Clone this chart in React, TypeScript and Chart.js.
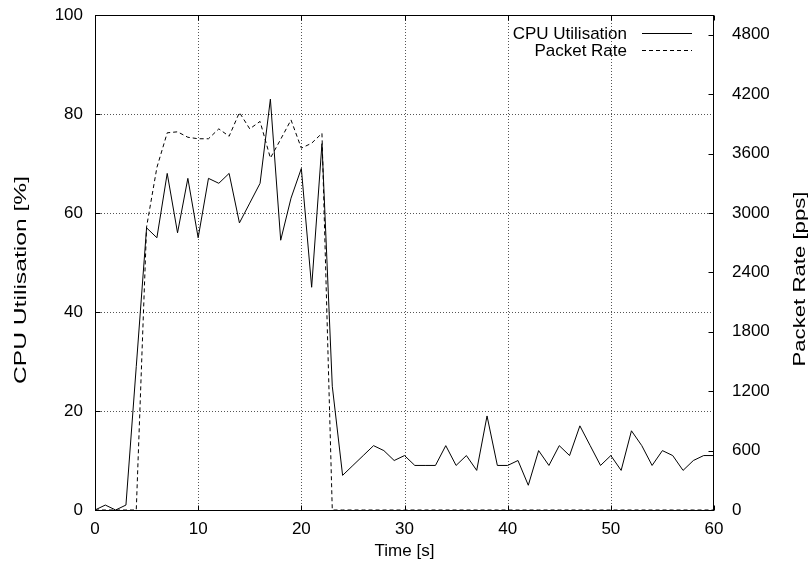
import React, { useEffect, useRef } from 'react';
import { Chart, registerables } from 'chart.js';

Chart.register(...registerables);

const seconds = [
  0, 1, 2, 3, 4, 5, 6, 7, 8, 9, 10, 11, 12, 13, 14, 15, 16, 17, 18, 19, 20,
  21, 22, 23, 24, 25, 26, 27, 28, 29, 30, 31, 32, 33, 34, 35, 36, 37, 38, 39, 40,
  41, 42, 43, 44, 45, 46, 47, 48, 49, 50, 51, 52, 53, 54, 55, 56, 57, 58, 59, 60,
];

const cpuUtilisation = [
  0, 1, 0, 1, 29, 57, 55, 68, 56, 67, 55, 67, 66, 68, 58, 62, 66, 83, 54.5, 63, 69,
  45, 74, 25, 7, 9, 11, 13, 12, 10, 11, 9, 9, 9, 13, 9, 11, 8, 19, 9, 9,
  10, 5, 12, 9, 13, 11, 17, 13, 9, 11, 8, 16, 13, 9, 12, 11, 8, 10, 11, 11,
];

const packetRate = [
  0, 0, 0, 0, 0, 2860, 3460, 3810, 3820, 3765, 3750, 3750, 3850, 3775, 4015, 3850, 3925, 3555, 3745, 3940, 3655,
  3705, 3805, 0, 0, 0, 0, 0, 0, 0, 0, 0, 0, 0, 0, 0, 0, 0, 0, 0, 0,
  0, 0, 0, 0, 0, 0, 0, 0, 0, 0, 0, 0, 0, 0, 0, 0, 0, 0, 0, 0,
];

const timeTicks = [0, 10, 20, 30, 40, 50, 60];
const cpuTicks = [0, 20, 40, 60, 80, 100];
const rateTicks = [0, 600, 1200, 1800, 2400, 3000, 3600, 4200, 4800];

const seriesLabels = ['CPU Utilisation', 'Packet Rate'];
const xTitle = 'Time [s]';
const yTitle = 'CPU Utilisation [%]';
const y2Title = 'Packet Rate [pps]';

const FONT = '"Liberation Sans", Arial, Helvetica, sans-serif';
const DASH = [4, 3];

const framePlugin = {
  id: 'gnuplotFrame',
  beforeDatasetsDraw(chart: any) {
    const { ctx, chartArea } = chart;
    const { left, right, top, bottom } = chartArea;
    const xs = chart.scales.x;
    const ys = chart.scales.y;
    ctx.save();
    ctx.strokeStyle = '#555';
    ctx.lineWidth = 1;
    ctx.setLineDash([1, 2]);
    timeTicks.forEach((v) => {
      if (v === timeTicks[0] || v === timeTicks[timeTicks.length - 1]) return;
      const px = Math.round(xs.getPixelForValue(v)) + 0.5;
      ctx.beginPath();
      ctx.moveTo(px, bottom);
      ctx.lineTo(px, top);
      ctx.stroke();
    });
    cpuTicks.forEach((v) => {
      if (v === cpuTicks[0] || v === cpuTicks[cpuTicks.length - 1]) return;
      const py = Math.round(ys.getPixelForValue(v)) + 0.5;
      ctx.beginPath();
      ctx.moveTo(left, py);
      ctx.lineTo(right, py);
      ctx.stroke();
    });
    ctx.restore();
  },
  afterDraw(chart: any) {
    const { ctx, chartArea } = chart;
    const { left, right, top, bottom } = chartArea;
    const xs = chart.scales.x;
    const ys = chart.scales.y;
    const y2s = chart.scales.y2;
    ctx.save();
    ctx.strokeStyle = '#000';
    ctx.lineWidth = 1;
    ctx.setLineDash([]);
    const L = Math.round(left) + 0.5;
    const R = Math.round(right) - 0.5;
    const T = Math.round(top) + 0.5;
    const B = Math.round(bottom) + 0.5;
    ctx.strokeRect(L, T, R - L, B - T);
    const tl = 5;
    ctx.beginPath();
    timeTicks.forEach((v) => {
      const px = Math.round(xs.getPixelForValue(v)) + 0.5;
      ctx.moveTo(px, B);
      ctx.lineTo(px, B - tl);
      ctx.moveTo(px, T);
      ctx.lineTo(px, T + tl);
    });
    cpuTicks.forEach((v) => {
      const py = Math.round(ys.getPixelForValue(v)) + 0.5;
      ctx.moveTo(L, py);
      ctx.lineTo(L + tl, py);
    });
    rateTicks.forEach((v) => {
      const py = Math.round(y2s.getPixelForValue(v)) + 0.5;
      ctx.moveTo(R, py);
      ctx.lineTo(R - tl, py);
    });
    ctx.stroke();

    // legend
    ctx.font = '17px ' + FONT;
    ctx.fillStyle = '#000';
    ctx.textAlign = 'right';
    ctx.textBaseline = 'middle';
    const rows = [33, 50];
    chart.data.datasets.forEach((ds: any, i: number) => {
      const y = rows[i];
      ctx.fillText(ds.label, 627, y + 1);
      ctx.setLineDash(ds.borderDash || []);
      ctx.beginPath();
      ctx.moveTo(642, Math.round(y) + 0.5);
      ctx.lineTo(692, Math.round(y) + 0.5);
      ctx.stroke();
    });
    ctx.setLineDash([]);

    // axis titles
    ctx.textAlign = 'center';
    ctx.fillText(xTitle, (left + right) / 2, 551);

    const drawVertical = (text: string, cx: number, cy: number, len: number) => {
      ctx.save();
      ctx.translate(cx, cy);
      ctx.rotate(-Math.PI / 2);
      const w = ctx.measureText(text).width;
      ctx.scale(len / w, 1);
      ctx.fillText(text, 0, 0);
      ctx.restore();
    };
    drawVertical(yTitle, 21, 280, 208);
    drawVertical(y2Title, 800, 279, 175);
    ctx.restore();
  },
};

const plainLabel = (v: any) => String(v);
const noPad = (s: any) => {
  s.paddingTop = 0;
  s.paddingBottom = 0;
  s.paddingLeft = 0;
  s.paddingRight = 0;
};

export default function App() {
  const canvasRef = useRef<HTMLCanvasElement | null>(null);

  useEffect(() => {
    const canvas = canvasRef.current;
    if (!canvas) return;
    const tickFont = { family: FONT, size: 17 };
    const chart = new Chart(canvas, {
      type: 'line',
      data: {
        datasets: [
          {
            label: seriesLabels[0],
            data: seconds.map((t, i) => ({ x: t, y: cpuUtilisation[i] })),
            borderColor: '#000',
            borderWidth: 1,
            pointRadius: 0,
            tension: 0,
            fill: false,
            yAxisID: 'y',
          },
          {
            label: seriesLabels[1],
            data: seconds.map((t, i) => ({ x: t, y: packetRate[i] })),
            borderColor: '#000',
            borderWidth: 1,
            borderDash: DASH,
            pointRadius: 0,
            tension: 0,
            fill: false,
            yAxisID: 'y2',
          },
        ],
      },
      options: {
        responsive: false,
        devicePixelRatio: 1,
        animation: false,
        layout: { padding: { top: 15, left: 0, right: 0, bottom: 0 } },
        plugins: {
          legend: { display: false },
          tooltip: { enabled: false },
          title: { display: false },
        },
        scales: {
          x: {
            type: 'linear',
            min: 0,
            max: 60,
            grid: { display: false },
            border: { display: false },
            afterBuildTicks: (s: any) => {
              s.ticks = timeTicks.map((v) => ({ value: v }));
            },
            afterFit: (s: any) => {
              s.height = 58;
              noPad(s);
            },
            ticks: { font: tickFont, color: '#000', padding: 1, maxRotation: 0, autoSkip: false, callback: plainLabel },
          },
          y: {
            type: 'linear',
            position: 'left',
            min: 0,
            max: 100,
            grid: { display: false },
            border: { display: false },
            afterBuildTicks: (s: any) => {
              s.ticks = cpuTicks.map((v) => ({ value: v }));
            },
            afterFit: (s: any) => {
              s.width = 95;
              noPad(s);
            },
            ticks: { font: tickFont, color: '#000', padding: 4, autoSkip: false, callback: plainLabel },
          },
          y2: {
            type: 'linear',
            position: 'right',
            min: 0,
            max: 5000,
            grid: { display: false },
            border: { display: false },
            afterBuildTicks: (s: any) => {
              s.ticks = rateTicks.map((v) => ({ value: v }));
            },
            afterFit: (s: any) => {
              s.width = 96;
              noPad(s);
            },
            ticks: { font: tickFont, color: '#000', padding: 10, autoSkip: false, callback: plainLabel },
          },
        },
      },
      plugins: [framePlugin],
    } as any);
    return () => chart.destroy();
  }, []);

  return (
    <div style={{ position: 'absolute', left: 0, top: 0, width: 810, height: 568, background: '#fff' }}>
      <canvas ref={canvasRef} width={810} height={568} style={{ display: 'block' }} />
    </div>
  );
}
